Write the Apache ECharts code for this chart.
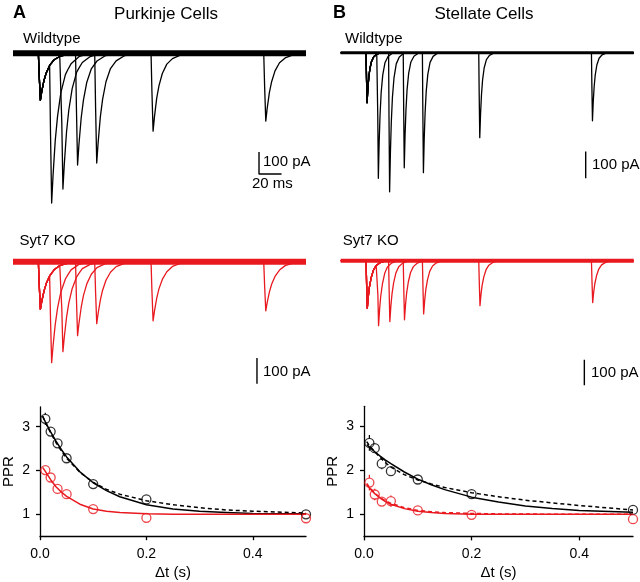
<!DOCTYPE html>
<html><head><meta charset="utf-8">
<script src="https://cdn.jsdelivr.net/npm/echarts@6/dist/echarts.min.js"></script>
<style>html,body{margin:0;padding:0;background:#fff}#c{width:640px;height:582px}</style>
</head><body><div id="c"></div>
<script>
// ================= DATA =================
// Paired-pulse protocol
const stimOnsetMs = 22.5;
const traceEndMs = 260;
const pairIntervalsMs = [10, 20, 33, 50, 100, 200];

// EPSC waveform shapes: [ms after stimulus, normalized current]
const purkinjeWtShape = [[0,0],[0.8,-0.5],[1.8,-1],[3,-0.82],[5,-0.58],[7,-0.42],[10,-0.26],[14,-0.14],[19,-0.07],[26,-0.025],[36,0]];
const purkinjeKoShape = [[0,0],[0.8,-0.5],[1.8,-1],[3,-0.84],[5,-0.62],[7,-0.46],[10,-0.3],[14,-0.17],[19,-0.08],[26,-0.03],[36,0]];
const stellateWtShape = [[0,0],[0.4,-0.5],[0.9,-1],[1.6,-0.72],[2.4,-0.5],[3.4,-0.32],[4.8,-0.18],[6.8,-0.08],[9.5,-0.03],[14,0]];
const stellateKoShape = [[0,0],[0.5,-0.5],[1.1,-1],[2,-0.75],[3,-0.55],[4.5,-0.36],[6.5,-0.2],[9,-0.1],[12.5,-0.04],[18,0]];

// EPSC amplitudes (pA): first response, and second-response peak for each interval
const pcWtAmp1 = 214;
const pcWtPeak2 = [682, 618, 509, 500, 355, 309];
const scWtAmp1 = 187;
const scWtPeak2 = [470, 521, 431, 449, 318, 255];
const pcKoAmp1 = 185;
const pcKoPeak2 = [393, 350, 288, 241, 230, 191];
const scKoAmp1 = 185;
const scKoPeak2 = [253, 237, 230, 207, 175, 163];

// Scale bars
const scaleBarPa = 100;
const scaleBarMs = 20;

// PPR summary
const pprDt = [0.01, 0.02, 0.033, 0.05, 0.1, 0.2, 0.5];
const pcWtPpr = [3.18, 2.89, 2.62, 2.28, 1.69, 1.34, 1.0];
const pcWtErr = [0.14, 0.06, 0.05, 0.05, 0.04, 0.05, 0.03];
const pcKoPpr = [2.01, 1.84, 1.58, 1.46, 1.12, 0.92, 0.91];
const pcKoErr = [0.06, 0.05, 0.04, 0.05, 0.03, 0.04, 0.03];
const scWtPpr = [2.62, 2.5, 2.15, 1.98, 1.79, 1.46, 1.1];
const scWtErr = [0.18, 0.06, 0.13, 0.07, 0.05, 0.05, 0.03];
const scKoPpr = [1.72, 1.45, 1.29, 1.3, 1.09, 0.99, 0.89];
const scKoErr = [0.18, 0.13, 0.07, 0.13, 0.05, 0.04, 0.04];

// Fit curves
const fitT = [0.005, 0.01, 0.02, 0.03, 0.04, 0.05, 0.075, 0.1, 0.125, 0.15, 0.2, 0.25, 0.3, 0.35, 0.4, 0.5];
const pcWtFit = [3.24, 3.11, 2.88, 2.67, 2.48, 2.31, 1.97, 1.72, 1.54, 1.40, 1.22, 1.12, 1.07, 1.04, 1.02, 1.01];
const pcWtFit2 = [3.24, 3.10, 2.86, 2.64, 2.45, 2.28, 1.96, 1.73, 1.57, 1.46, 1.31, 1.22, 1.15, 1.10, 1.07, 1.03];
const pcKoFit = [2.07, 1.98, 1.79, 1.63, 1.51, 1.41, 1.23, 1.12, 1.07, 1.04, 1.01, 1.0, 1.0, 1.0, 1.0, 1.0];
const scWtFit = [2.58, 2.53, 2.42, 2.32, 2.23, 2.15, 1.96, 1.80, 1.67, 1.56, 1.39, 1.28, 1.19, 1.13, 1.09, 1.05];
const scWtFit2 = [2.65, 2.56, 2.42, 2.29, 2.17, 2.07, 1.90, 1.78, 1.69, 1.61, 1.49, 1.40, 1.32, 1.26, 1.20, 1.10];
const scKoFit = [1.68, 1.60, 1.47, 1.37, 1.29, 1.23, 1.13, 1.07, 1.04, 1.02, 1.0, 1.0, 1.0, 1.0, 1.0, 1.0];
const scKoFit2 = [1.70, 1.62, 1.48, 1.38, 1.31, 1.25, 1.15, 1.09, 1.06, 1.04, 1.02, 1.01, 1.01, 1.0, 1.0, 1.0];

// ================= CHART =================
const FONT = '"Liberation Sans", Arial, Helvetica, sans-serif';
const RED = '#e8191f';
const BLACK = '#000';
const CIRCLE = 9;

function shapeAt(shape, dt) {
  if (dt <= 0) return 0;
  for (let i = 1; i < shape.length; i++) {
    if (dt <= shape[i][0]) {
      const a = shape[i - 1], b = shape[i];
      return a[1] + (b[1] - a[1]) * (dt - a[0]) / (b[0] - a[0]);
    }
  }
  return 0;
}
function peakTime(shape) {
  let m = shape[0];
  shape.forEach(p => { if (p[1] < m[1]) m = p; });
  return m[0];
}
function sweep(shape, amp1, peak2, delta) {
  const t1 = stimOnsetMs, t2 = stimOnsetMs + delta;
  const tp = peakTime(shape);
  const amp2 = peak2 + amp1 * shapeAt(shape, delta + tp);
  const times = new Set([0, traceEndMs]);
  shape.forEach(p => { times.add(+(t1 + p[0]).toFixed(3)); times.add(+(t2 + p[0]).toFixed(3)); });
  return [...times].sort((a, b) => a - b).map(t => [t, amp1 * shapeAt(shape, t - t1) + amp2 * shapeAt(shape, t - t2)]);
}

const tracePanels = [
  {shape: purkinjeWtShape, amp1: pcWtAmp1, peak2: pcWtPeak2, color: BLACK,
   grid: {left: 13, top: 40, width: 293, height: 167}, ymin: -700, ymax: 60, band: 6,
   barT: 218.3, barTop: -450, timeBar: true},
  {shape: stellateWtShape, amp1: scWtAmp1, peak2: scWtPeak2, color: BLACK,
   grid: {left: 340.7, top: 39.4, width: 293, height: 160.2}, ymin: -550, ymax: 50, band: 3.2,
   barT: 217.4, barTop: -370, timeBar: false},
  {shape: purkinjeKoShape, amp1: pcKoAmp1, peak2: pcKoPeak2, color: RED,
   grid: {left: 13, top: 248.85, width: 293, height: 154.2}, ymin: -550, ymax: 50, band: 6,
   barT: 216.5, barTop: -375, timeBar: false},
  {shape: stellateKoShape, amp1: scKoAmp1, peak2: scKoPeak2, color: RED,
   grid: {left: 340.7, top: 247.85, width: 293, height: 154.2}, ymin: -550, ymax: 50, band: 4,
   barT: 216.2, barTop: -385, timeBar: false}
];

const grids = [], xAxes = [], yAxes = [], series = [];
tracePanels.forEach((p, gi) => {
  grids.push(Object.assign({containLabel: false}, p.grid));
  xAxes.push({gridIndex: gi, type: 'value', min: 0, max: traceEndMs, show: false});
  yAxes.push({gridIndex: gi, type: 'value', min: p.ymin, max: p.ymax, show: false});
  // baseline noise band
  series.push({type: 'line', xAxisIndex: gi, yAxisIndex: gi, data: [[0, 0], [traceEndMs, 0]],
    showSymbol: false, silent: true, lineStyle: {color: p.color, width: p.band, cap: 'butt'}, z: 2});
  pairIntervalsMs.forEach((d, k) => {
    series.push({type: 'line', xAxisIndex: gi, yAxisIndex: gi, data: sweep(p.shape, p.amp1, p.peak2[k], d),
      showSymbol: false, silent: true, lineStyle: {color: p.color, width: 1.3, join: 'round'}, z: 3});
  });
  // scale bar
  const barData = [[p.barT, p.barTop], [p.barT, p.barTop - scaleBarPa]];
  if (p.timeBar) barData.push([p.barT + scaleBarMs, p.barTop - scaleBarPa]);
  series.push({type: 'line', xAxisIndex: gi, yAxisIndex: gi, data: barData, showSymbol: false, silent: true,
    lineStyle: {color: BLACK, width: 1.4, cap: 'butt'}, z: 4});
});

const pprPanels = [
  {grid: {left: 35.7, top: 407, width: 270.3, height: 129.2},
   groups: [
     {y: pcWtPpr, err: pcWtErr, color: BLACK, fits: [[pcWtFit, 'solid'], [pcWtFit2, 'dashed']]},
     {y: pcKoPpr, err: pcKoErr, color: RED, fits: [[pcKoFit, 'solid']]}
   ]},
  {grid: {left: 364, top: 406.3, width: 269, height: 130.1},
   groups: [
     {y: scWtPpr, err: scWtErr, color: BLACK, fits: [[scWtFit, 'solid'], [scWtFit2, 'dashed']]},
     {y: scKoPpr, err: scKoErr, color: RED, fits: [[scKoFit, 'solid'], [scKoFit2, 'dashed']]}
   ]}
];

const axisStyle = {color: BLACK, width: 1.3};
pprPanels.forEach((p, k) => {
  const gi = 4 + k;
  grids.push(Object.assign({containLabel: false}, p.grid));
  xAxes.push({gridIndex: gi, type: 'value', min: 0, max: 0.5,
    axisLine: {show: true, onZero: false, lineStyle: axisStyle},
    axisTick: {show: true, inside: false, length: 4, customValues: [0, 0.2, 0.4], lineStyle: axisStyle},
    axisLabel: {customValues: [0, 0.2, 0.4], formatter: v => v.toFixed(1), color: BLACK, fontSize: 14, margin: 11, fontFamily: FONT},
    splitLine: {show: false},
    name: 'Δt (s)', nameLocation: 'middle', nameGap: 29,
    nameTextStyle: {color: BLACK, fontSize: 15, fontFamily: FONT}});
  yAxes.push({gridIndex: gi, type: 'value', min: 0.5, max: 3.45,
    axisLine: {show: true, onZero: false, lineStyle: axisStyle},
    axisTick: {show: true, inside: false, length: 4, customValues: [1, 2, 3], lineStyle: axisStyle},
    axisLabel: {customValues: [1, 2, 3], color: BLACK, fontSize: 14, margin: 10, fontFamily: FONT},
    splitLine: {show: false},
    name: 'PPR', nameLocation: 'middle', nameGap: 24, nameRotate: 90,
    nameTextStyle: {color: BLACK, fontSize: 15, fontFamily: FONT}});
  p.groups.forEach(g => {
    g.fits.forEach(([f, type]) => {
      series.push({type: 'line', xAxisIndex: gi, yAxisIndex: gi, data: fitT.map((t, i) => [t, f[i]]),
        smooth: false, showSymbol: false, silent: true,
        lineStyle: {color: g.color, width: 1.5, type: type === 'dashed' ? [4, 3] : 'solid', join: 'round'}, z: 3});
    });
    // error bars, drawn outside the open circles
    series.push({type: 'custom', xAxisIndex: gi, yAxisIndex: gi,
      data: pprDt.map((x, i) => [x, g.y[i], g.err[i]]),
      renderItem: (params, api) => {
        const x = api.value(0), y = api.value(1), e = api.value(2);
        const c = api.coord([x, y]);
        const top = api.coord([x, y + e])[1];
        const bot = api.coord([x, y - e])[1];
        const r = CIRCLE / 2;
        const kids = [];
        if (c[1] - top > r) kids.push({type: 'line', shape: {x1: c[0], y1: c[1] - r, x2: c[0], y2: top}, style: {stroke: g.color, lineWidth: 1.2}});
        if (bot - c[1] > r) kids.push({type: 'line', shape: {x1: c[0], y1: c[1] + r, x2: c[0], y2: bot}, style: {stroke: g.color, lineWidth: 1.2}});
        return {type: 'group', children: kids};
      }, silent: true, z: 4});
    series.push({type: 'scatter', xAxisIndex: gi, yAxisIndex: gi, data: pprDt.map((x, i) => [x, g.y[i]]),
      symbol: 'circle', symbolSize: CIRCLE, silent: true,
      itemStyle: {color: 'rgba(0,0,0,0)', borderColor: g.color, borderWidth: 1.3}, z: 5});
  });
});

function txt(x, y, s, size, opts) {
  return Object.assign({type: 'text', x: x, y: y,
    style: Object.assign({text: s, fill: BLACK, fontSize: size, fontFamily: FONT,
      textAlign: 'left', textVerticalAlign: 'middle'}, opts || {})});
}

const graphics = [
  txt(13, 13, 'A', 18, {fontWeight: 'bold'}),
  txt(166, 14.5, 'Purkinje Cells', 17, {textAlign: 'center'}),
  txt(333, 13, 'B', 18, {fontWeight: 'bold'}),
  txt(484, 14.5, 'Stellate Cells', 17, {textAlign: 'center'}),
  txt(23, 38.5, 'Wildtype', 15),
  txt(345, 38.5, 'Wildtype', 15),
  txt(19.5, 241, 'Syt7 KO', 15),
  txt(342.7, 240.5, 'Syt7 KO', 15),
  txt(263, 162, '100 pA', 15),
  txt(252, 183.5, '20 ms', 15),
  txt(592, 165, '100 pA', 15),
  txt(263, 372, '100 pA', 15),
  txt(591, 372.5, '100 pA', 15)
];

const chart = echarts.init(document.getElementById('c'), null, {renderer: 'canvas'});
chart.setOption({
  animation: false,
  backgroundColor: '#fff',
  grid: grids, xAxis: xAxes, yAxis: yAxes, series: series,
  graphic: graphics
});
</script></body></html>
